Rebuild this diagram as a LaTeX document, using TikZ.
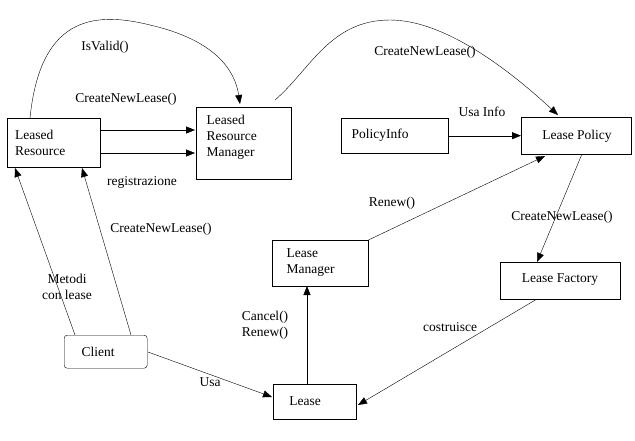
\documentclass[tikz,border=0pt]{standalone}
\usepackage{fontspec}
\setmainfont{Liberation Serif}
\usetikzlibrary{arrows.meta}
\begin{document}
\begin{tikzpicture}[x=1pt,y=-1pt,
  box/.style={draw,thin,font=\fontsize{13.5}{16}\selectfont,align=left,anchor=north west,inner sep=0pt},
  lbl/.style={font=\fontsize{13.5}{16}\selectfont,align=left},
  arr/.style={-{Triangle[length=9pt,width=7pt]},thin}]
\useasboundingbox (0,0) rectangle (635,440);
\node[box,minimum width=93pt,minimum height=49pt,text width=85pt] (lr) at (7,118) {\hspace*{4pt}Leased\\\hspace*{4pt}Resource};
\node[box,minimum width=95pt,minimum height=72pt] (lrm) at (196,107) {};
\node[lbl,anchor=north west] at (203,112) {Leased\\Resource\\Manager};
\node[box,minimum width=107pt,minimum height=35pt] (pi) at (341,118) {};
\node[lbl] at (380,135) {PolicyInfo};
\node[box,minimum width=110pt,minimum height=37pt] (lp) at (521,117) {};
\node[lbl] at (577,136) {Lease Policy};
\node[box,minimum width=96pt,minimum height=46pt] (lm) at (272,240) {};
\node[lbl,anchor=north west] at (283,245) {Lease\\Manager};
\node[box,minimum width=120pt,minimum height=37pt] (lf) at (500,262) {};
\node[lbl] at (560,280) {Lease Factory};
\node[box,minimum width=83pt,minimum height=33pt,rounded corners=3pt] (cl) at (64,335) {};
\node[lbl] at (98,352) {Client};
\node[box,minimum width=83pt,minimum height=35pt] (ls) at (273,384) {};
\node[lbl] at (305,401) {Lease};
\coordinate (a1) at (30,118);
\coordinate (a2) at (240,104);
\draw[arr] (a1) .. controls (40,20) and (90,10) .. (150,25) .. controls (215,40) and (235,70) .. (a2);
\node[lbl] at (105,47) {IsValid()};
\draw[arr] (100,130) -- (195,130);
\draw[arr] (100,153) -- (195,153);
\node[lbl] at (126,99) {CreateNewLease()};
\node[lbl] at (142,182) {registrazione};
\coordinate (b1) at (275,100);
\coordinate (b2) at (558,115);
\draw[arr] (b1) .. controls (310,70) and (330,20) .. (390,20) .. controls (450,20) and (520,80) .. (b2);
\node[lbl] at (425,52) {CreateNewLease()};
\draw[arr] (pi) -- (lp);
\node[lbl] at (482,112) {Usa Info};
\draw[arr] (lm.north east) -- (545,156);
\node[lbl] at (392,203) {Renew()};
\draw[arr] (582,154) -- (537,262);
\node[lbl] at (562,217) {CreateNewLease()};
\draw[arr] (537,299) -- (358,405);
\node[lbl] at (450,327) {costruisce};
\draw[arr] (307,384) -- (307,286);
\node[lbl] at (265,325) {Cancel()\\Renew()};
\draw[arr] (148,352) -- (272,397);
\node[lbl] at (210,382) {Usa};
\draw[arr] (75,335) -- (15,168);
\node[lbl,align=center] at (67,287) {Metodi\\con lease};
\draw[arr] (131,335) -- (82,168);
\node[lbl] at (161,229) {CreateNewLease()};
\end{tikzpicture}
\end{document}
